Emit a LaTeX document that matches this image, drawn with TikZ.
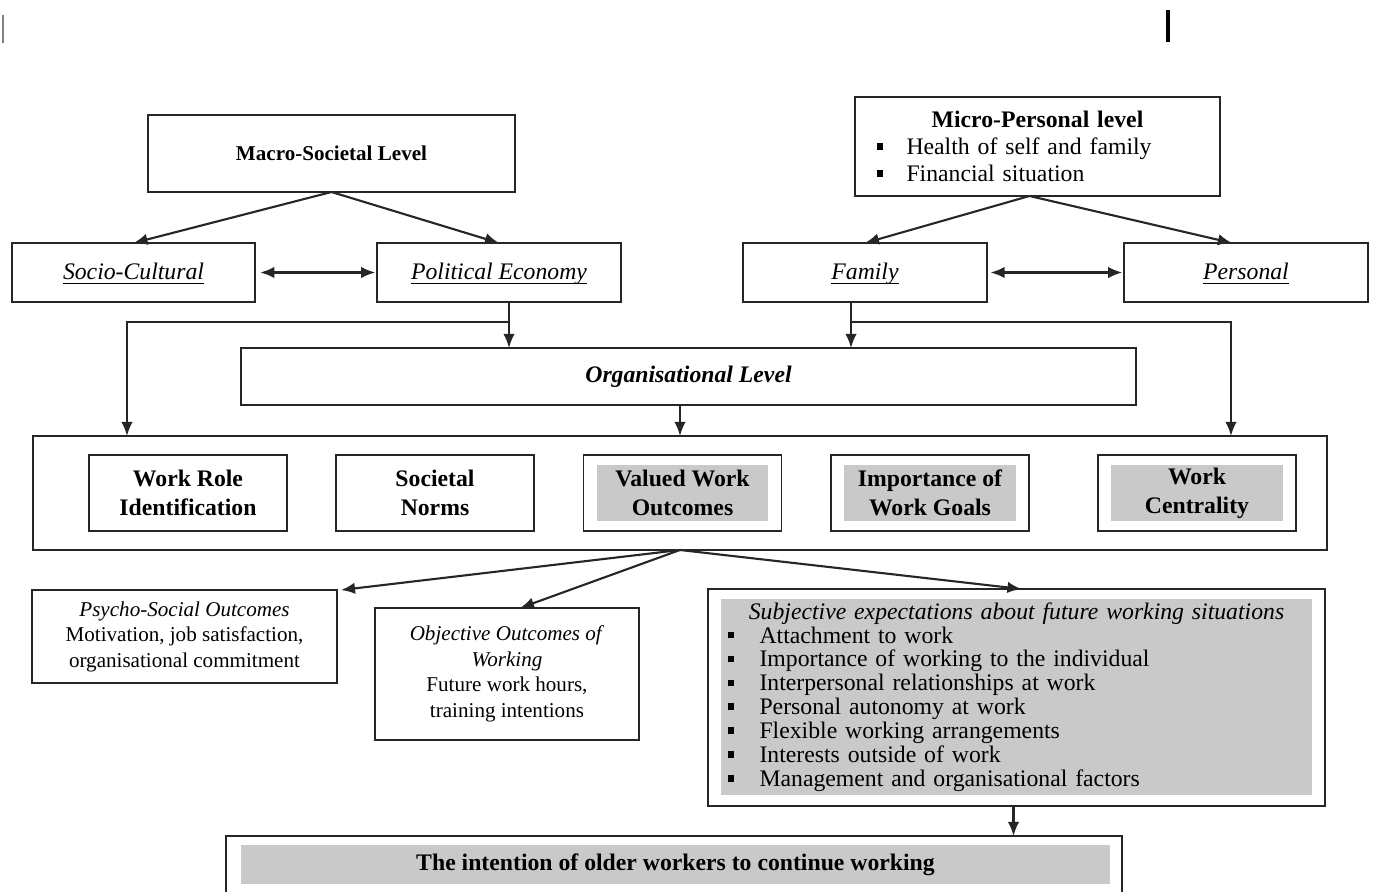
\documentclass[tikz,border=0pt]{standalone}
\usepackage{fontspec}
\setmainfont{Liberation Serif}
\usetikzlibrary{arrows.meta,calc,positioning}
\definecolor{shadegray}{gray}{0.79}
\newcommand{\sqb}{\makebox[0.6cm][l]{\rule[2.6pt]{3.8pt}{3.8pt}}}
\newcommand{\sqbb}{\makebox[0.64cm][l]{\rule[2.6pt]{3.8pt}{3.8pt}}}
\newcommand{\ulword}[1]{\setbox0\hbox{#1}\rlap{\rule[-2.4pt]{\wd0}{0.6pt}}\box0}
\tikzset{>={Latex[length=8pt,width=6.5pt]},
        level/.style={draw=black!85, line width=1.1pt, fill=white, inner sep=0pt, outer sep=0pt,
                      align=center, font=\fontsize{13.5}{16}\selectfont},
        factor/.style={level, minimum width=3.96cm, minimum height=1.52cm,
                       font=\bfseries\fontsize{13.5}{16.4}\selectfont},
        shaded/.style={fill=shadegray, inner sep=0pt, outer sep=0pt, align=center,
                       font=\bfseries\fontsize{13.5}{16.4}\selectfont},
        link/.style={draw=black!85, line width=1.2pt, ->},
        }

\begin{document}
\begin{tikzpicture}[x=0.02cm, y=-0.02cm]
    \useasboundingbox (0,0) rectangle (1377,892);
    % marks at the top of the page
    \draw[gray, line width=0.8pt] (3,15) -- (3,43);
    \draw[line width=2.2pt] (1168,10) -- (1168,42);

    % macro and micro levels
    \node[level, minimum width=7.34cm, minimum height=1.54cm, font=\bfseries\fontsize{12}{14}\selectfont] (macro) at (331.5,153.5) {Macro-Societal Level};
    \node[level, minimum width=7.3cm, minimum height=1.98cm, text width=6.44cm, align=left, font=\fontsize{13.5}{15.3}\selectfont] (micro) at (1037.5,146.5)
        {{\centering\bfseries Micro-Personal level\par}\sqb Health of self and family\par\sqb Financial situation};

    \node[level, minimum width=4.86cm, minimum height=1.18cm, text height=2.2ex, text depth=0.45ex] (soc) at (133.5,272.5) {\itshape\ulword{Socio-Cultural}};
    \node[level, minimum width=4.88cm, minimum height=1.18cm, text height=2.2ex, text depth=0.45ex] (pol) at (499,272.5) {\itshape\ulword{Political Economy}};
    \node[level, minimum width=4.88cm, minimum height=1.18cm, text height=2.2ex, text depth=0.45ex] (fam) at (865,272.5) {\itshape\ulword{Family}};
    \node[level, minimum width=4.88cm, minimum height=1.18cm, text height=2.2ex, text depth=0.45ex] (pers) at (1246,272.5) {\itshape\ulword{Personal}};

    \node[level, minimum width=17.9cm, minimum height=1.14cm, font=\bfseries\itshape\fontsize{13.5}{16}\selectfont] (org) at (688.5,376.5) {Organisational Level};

    % work values
    \node[level, minimum width=25.88cm, minimum height=2.28cm] (big) at (680,493) {};
    \node[factor] (wri) at (188,493) {Work Role\\Identification};
    \node[factor] (sn) at (435,493) {Societal\\Norms};
    \node[factor] (vwo) at (682.5,493) {};
    \node[shaded, minimum width=3.44cm, minimum height=1.12cm] (vwot) at (vwo) {Valued Work\\Outcomes};
    \node[factor] (iwg) at (930,493) {};
    \node[shaded, minimum width=3.44cm, minimum height=1.12cm] (iwgt) at (iwg) {Importance of\\Work Goals};
    \node[factor] (wc) at (1197,493) {};
    \node[shaded, minimum width=3.44cm, minimum height=1.12cm] (wct) at (wc) {Work\\Centrality};

    % outcomes
    \node[level, minimum width=6.1cm, minimum height=1.86cm, font=\fontsize{12}{14.5}\selectfont] (psy) at (184.5,636.5)
        {\textit{Psycho-Social Outcomes}\\Motivation, job satisfaction,\\organisational commitment};
    \node[level, minimum width=5.28cm, minimum height=2.64cm, font=\fontsize{12}{14.6}\selectfont] (obj) at (507,674)
        {\textit{Objective Outcomes of}\\\textit{Working}\\Future work hours,\\training intentions};
    \node[level, minimum width=12.36cm, minimum height=4.34cm] (subj) at (1016.5,697.5) {};
    \node[shaded, minimum width=11.84cm, minimum height=3.94cm, text width=11.56cm, align=left, font=\fontsize{13.5}{13.6}\selectfont] (subjt) at (1016.5,697)
        {{\centering\itshape Subjective expectations about future working situations\par}
         \sqbb Attachment to work\par
         \sqbb Importance of working to the individual\par
         \sqbb Interpersonal relationships at work\par
         \sqbb Personal autonomy at work\par
         \sqbb Flexible working arrangements\par
         \sqbb Interests outside of work\par
         \sqbb Management and organisational factors};

    \node[level, minimum width=17.92cm, minimum height=1.16cm] (intent) at (674,865) {};
    \node[shaded, minimum width=17.4cm, minimum height=0.78cm] (intentt) at (675.5,864.5) {The intention of older workers to continue working};

    % connectors
    \draw[link] (macro.south) -- (soc.north);
    \draw[link] (macro.south) -- (pol.north);
    \draw[link] ($(micro.south)+(-8,0)$) -- (fam.north);
    \draw[link] ($(micro.south)+(-8,0)$) -- ($(pers.north)+(-14,0)$);
    \draw[link, <->, shorten <=3pt, shorten >=1pt] (soc) -- (pol);
    \draw[link, <->, shorten <=2pt, shorten >=1pt] (fam) -- (pers);

    \coordinate (pl) at ($(pol.south)+(10,0)$);
    \coordinate (fr) at ($(fam.south)+(-14,0)$);
    \coordinate (kl) at (127,322);
    \coordinate (kr) at (1231,322);
    \draw[link] (pl) -- (pl |- org.north);
    \draw[link] (fr) -- (fr |- org.north);
    \draw[link] (pl |- kl) -| (kl |- big.north);
    \draw[link] (fr |- kr) -| (kr |- big.north);
    \draw[link] (big.north |- org.south) -- (big.north);

    \draw[link] (big.south) -- ($(psy.north east)+(4,0)$);
    \draw[link] (big.south) -- ($(obj.north)+(13,0)$);
    \draw[link] (big.south) -- ($(subj.north)+(5,0)$);
    \draw[link] ($(subj.south)+(-3,0)$) -- ($(subj.south |- intent.north)+(-3,0)$);
\end{tikzpicture}
\end{document}
